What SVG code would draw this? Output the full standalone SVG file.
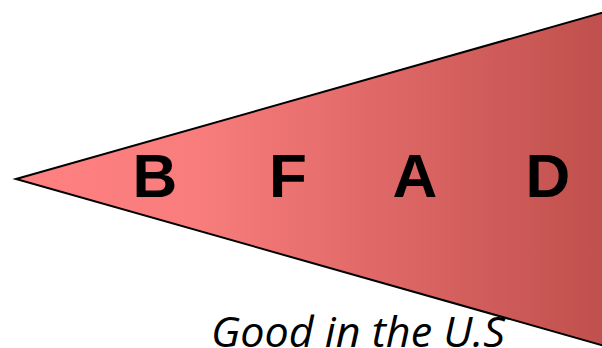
<svg xmlns="http://www.w3.org/2000/svg" width="602" height="348" viewBox="0 0 602 348">
<style>
.letter{font-family:"Liberation Sans",Arial,sans-serif;font-weight:bold;font-size:62px;fill:#000;text-anchor:middle}
.cap{font-family:"Open Sans","Liberation Sans",sans-serif;font-style:italic;font-size:42px;fill:#000}
</style>
<defs>
<linearGradient id="g" gradientUnits="userSpaceOnUse" x1="16" y1="0" x2="602" y2="0">
<stop offset="0" stop-color="#FF8080"/>
<stop offset="0.3" stop-color="#F97D7D"/>
<stop offset="1" stop-color="#C0504D"/>
</linearGradient>
</defs>
<g id="triangle">
<polygon points="16,179 640,2 640,356" fill="url(#g)" stroke="#000" stroke-width="2"/>
</g>
<g id="labels">
<text class="letter" x="155" y="197">B</text>
<text class="letter" x="288" y="197">F</text>
<text class="letter" x="415" y="197">A</text>
<text class="letter" x="548" y="197">D</text>
</g>
<text class="cap" x="211" y="347" textLength="294" lengthAdjust="spacingAndGlyphs">Good in the U.S</text>
</svg>
